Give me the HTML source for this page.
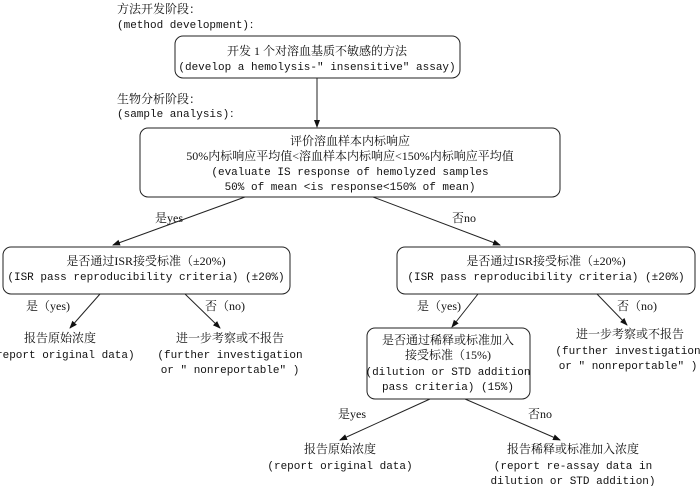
<!DOCTYPE html>
<html><head><meta charset="utf-8"><style>
html,body{margin:0;padding:0;background:#fff;}
svg text{font-family:"Liberation Mono","Noto Serif CJK SC",monospace;font-size:11px;fill:#111;}
svg text.c{font-family:"Liberation Serif","Noto Serif CJK SC",serif;font-size:12px;}
</style></head><body>
<svg width="700" height="486" viewBox="0 0 700 486" xmlns="http://www.w3.org/2000/svg">
<defs><marker id="a" markerWidth="8" markerHeight="8" refX="7" refY="4" orient="auto" markerUnits="userSpaceOnUse"><path d="M0,1 L8,4 L0,7 z" fill="#111"/></marker></defs>
<g fill="none" stroke="#222" stroke-width="1">
<rect x="175" y="36" width="285" height="42" rx="8"/>
<rect x="140" y="128" width="420" height="69" rx="8"/>
<rect x="3" y="247" width="287" height="47" rx="8"/>
<rect x="397" y="247" width="298" height="47" rx="8"/>
<rect x="367" y="328" width="163" height="71" rx="8"/>
<line x1="317" y1="78" x2="317" y2="127" marker-end="url(#a)"/>
<line x1="245" y1="197" x2="113" y2="245" marker-end="url(#a)"/>
<line x1="373" y1="197" x2="500" y2="245" marker-end="url(#a)"/>
<line x1="100" y1="294" x2="70" y2="328" marker-end="url(#a)"/>
<line x1="185" y1="294" x2="220" y2="328" marker-end="url(#a)"/>
<line x1="478" y1="294" x2="452" y2="327" marker-end="url(#a)"/>
<line x1="597" y1="294" x2="627" y2="325" marker-end="url(#a)"/>
<line x1="430" y1="399" x2="340" y2="440" marker-end="url(#a)"/>
<line x1="465" y1="399" x2="560" y2="440" marker-end="url(#a)"/>
</g>
<text class="c" x="117" y="13">方法开发阶段：</text>
<text x="117" y="28">(method development)：</text>
<text class="c" x="117" y="103">生物分析阶段：</text>
<text x="117" y="117">(sample analysis)：</text>
<g text-anchor="middle">
<text class="c" x="317" y="55">开发 1 个对溶血基质不敏感的方法</text>
<text x="317" y="70">(develop a hemolysis-″ insensitive″ assay)</text>
<text class="c" x="350" y="145">评价溶血样本内标响应</text>
<text class="c" x="350" y="160">50%内标响应平均值&lt;溶血样本内标响应&lt;150%内标响应平均值</text>
<text x="350" y="175">(evaluate IS response of hemolyzed samples</text>
<text x="350" y="190">50% of mean &lt;is response&lt;150% of mean)</text>
<text class="c" x="146" y="265">是否通过ISR接受标准（±20%)</text>
<text x="146" y="280">(ISR pass reproducibility criteria) (±20%)</text>
<text class="c" x="546" y="265">是否通过ISR接受标准（±20%)</text>
<text x="546" y="280">(ISR pass reproducibility criteria) (±20%)</text>
<text class="c" x="448" y="344">是否通过稀释或标准加入</text>
<text class="c" x="448" y="359">接受标准（15%)</text>
<text x="448" y="375">(dilution or STD addition</text>
<text x="448" y="390">pass criteria) (15%)</text>
<text class="c" x="60" y="342">报告原始浓度</text>
<text x="62" y="358">(report original data)</text>
<text class="c" x="230" y="342">进一步考察或不报告</text>
<text x="230" y="358">(further investigation</text>
<text x="230" y="373">or ″ nonreportable″ )</text>
<text class="c" x="630" y="338">进一步考察或不报告</text>
<text x="628" y="354">(further investigation</text>
<text x="628" y="369">or ″ nonreportable″ )</text>
<text class="c" x="340" y="453">报告原始浓度</text>
<text x="340" y="469">(report original data)</text>
<text class="c" x="573" y="453">报告稀释或标准加入浓度</text>
<text x="573" y="469">(report re-assay data in</text>
<text x="573" y="484">dilution or STD addition)</text>
</g>
<text class="c" x="155" y="222">是yes</text>
<text class="c" x="452" y="222">否no</text>
<text class="c" x="26" y="310">是（yes)</text>
<text class="c" x="205" y="310">否（no)</text>
<text class="c" x="417" y="310">是（yes)</text>
<text class="c" x="617" y="310">否（no)</text>
<text class="c" x="338" y="418">是yes</text>
<text class="c" x="528" y="418">否no</text>
</svg>
</body></html>
